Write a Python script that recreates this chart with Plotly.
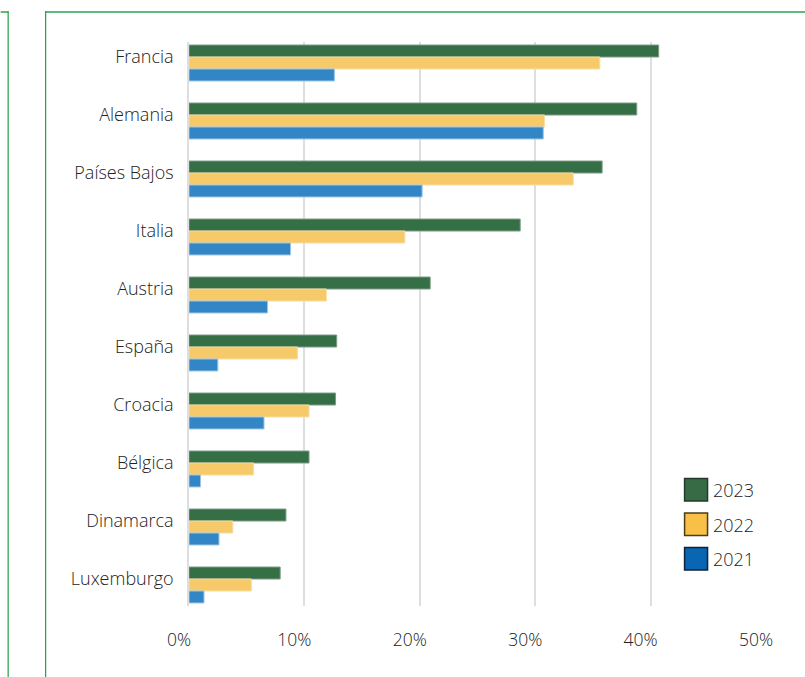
import plotly.graph_objects as go

countries = ["Francia", "Alemania", "Países Bajos", "Italia", "Austria",
             "España", "Croacia", "Bélgica", "Dinamarca", "Luxemburgo"]
v2023 = [40.7, 38.8, 35.8, 28.7, 20.9, 12.8, 12.7, 10.4, 8.4, 7.9]
v2022 = [35.6, 30.8, 33.3, 18.7, 11.9, 9.4, 10.4, 5.6, 3.8, 5.4]
v2021 = [12.6, 30.7, 20.2, 8.8, 6.8, 2.5, 6.5, 1.0, 2.6, 1.3]
years = ["2023", "2022", "2021"]
x_ticks = [0, 10, 20, 30, 40, 50]
x_tick_labels = ["0%", "10%", "20%", "30%", "40%", "50%"]

bar_colors = ["#356F46", "#F6C969", "#3386C6"]
bar_edges = ["#7E9C86", "#F9DCA0", "#9CC4E6"]
legend_colors = ["#376B45", "#F8C047", "#0966B3"]
legend_edges = ["#263A2C", "#4A3D18", "#102238"]

W, H = 805, 677
L, R, T, B = 188.5, 766, 42, 606

def px(x):
    return (x - L) / (R - L)

def py(y):
    return (B - y) / (B - T)

fig = go.Figure()
for name, vals, c, e in zip(years, [v2023, v2022, v2021], bar_colors, bar_edges):
    fig.add_trace(go.Bar(
        y=countries, x=vals, name=name, orientation="h",
        marker=dict(color=c, line=dict(color=e, width=1)),
        showlegend=False,
    ))

font_family = "Open Sans, Noto Sans, sans-serif"
text_color = "#222222"

shapes = []
annotations = []
shapes.append(dict(type="line", xref="paper", yref="paper",
                   x0=px(0), x1=px(7.5), y0=py(12), y1=py(12),
                   line=dict(color="#5DBB7C", width=2)))
shapes.append(dict(type="line", xref="paper", yref="paper",
                   x0=px(7.5), x1=px(7.5), y0=py(11), y1=py(680),
                   line=dict(color="#1FA04C", width=1.2)))
shapes.append(dict(type="line", xref="paper", yref="paper",
                   x0=px(45), x1=px(810), y0=py(12), y1=py(12),
                   line=dict(color="#5DBB7C", width=2)))
shapes.append(dict(type="line", xref="paper", yref="paper",
                   x0=px(45), x1=px(45), y0=py(11), y1=py(680),
                   line=dict(color="#1FA04C", width=1.2)))

leg_top = [478.5, 513, 547.5]
for name, top, c, e in zip(years, leg_top, legend_colors, legend_edges):
    shapes.append(dict(type="rect", xref="paper", yref="paper",
                       x0=px(684.5), x1=px(707.5), y0=py(top), y1=py(top + 22.5),
                       fillcolor=c, line=dict(color=e, width=1.5)))
    annotations.append(dict(xref="paper", yref="paper", x=px(711), y=py(top + 11.5),
                            text=name, showarrow=False, xanchor="left", yanchor="middle",
                            font=dict(family=font_family, size=18, weight=300, color=text_color)))

fig.update_layout(
    width=W, height=H,
    margin=dict(l=L, r=W - R, t=T, b=H - B, pad=0),
    paper_bgcolor="white", plot_bgcolor="white",
    barmode="group", bargap=0.38, bargroupgap=0,
    shapes=shapes, annotations=annotations,
    showlegend=False,
    xaxis=dict(range=[0, 50], tickvals=x_ticks, ticktext=x_tick_labels,
               showgrid=True, gridcolor="#DEDEDE", gridwidth=1.5,
               zeroline=False, showline=False, ticks="",
               ticklabelstandoff=21, ticklabelshift=-10,
               tickfont=dict(family=font_family, size=17.5, weight=300, color=text_color)),
    yaxis=dict(categoryorder="array", categoryarray=countries,
               range=[9.362, -0.362], showgrid=False, zeroline=False,
               showline=True, linecolor="#DEDEDE", linewidth=1.5, ticks="",
               ticklabelstandoff=10, ticklabelshift=6,
               tickfont=dict(family=font_family, size=18, weight=300, color=text_color)),
)

fig.write_html("out.html")
